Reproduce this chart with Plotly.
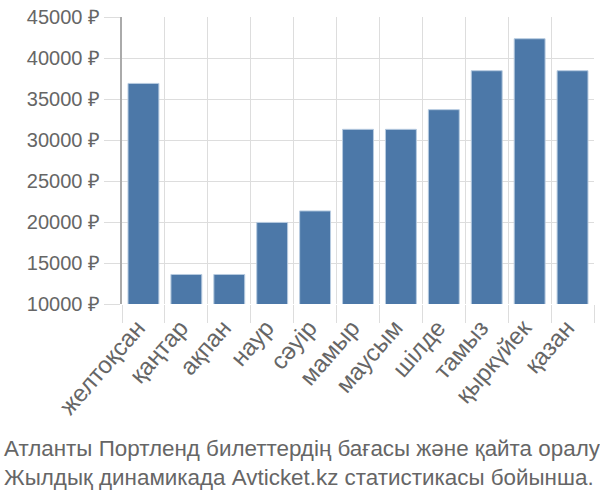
import plotly.graph_objects as go

months = ["желтоқсан", "қаңтар", "ақпан", "наур", "сәуір", "мамыр",
          "маусым", "шілде", "тамыз", "қыркүйек", "қазан"]
prices = [36900, 13600, 13600, 19950, 21350, 31300, 31300, 33700, 38450, 42350, 38450]
yticks = [10000, 15000, 20000, 25000, 30000, 35000, 40000, 45000]
yticklabels = [f"{v} ₽" for v in yticks]
title_lines = ["Атланты Портленд билеттердің бағасы және қайта оралу",
               "Жылдық динамикада Avticket.kz статистикасы бойынша."]

fig = go.Figure(go.Bar(
    x=months, y=prices, base=0,
    marker=dict(color="#4c78a8", line=dict(color="#b7cbe0", width=1)),
    width=0.72,
))

fig.update_layout(
    width=600, height=500,
    margin=dict(l=122, r=6, t=14, b=196),
    plot_bgcolor="white", paper_bgcolor="white",
    font=dict(family="Liberation Sans, Arial, sans-serif", color="#666666"),
    showlegend=False,
)
fig.update_xaxes(
    type="category", tickson="boundaries", tickangle=-49,
    showgrid=True, gridcolor="#dddddd", gridwidth=1,
    ticks="outside", ticklen=18, tickcolor="#dddddd",
    tickfont=dict(size=24, color="#666666"),
    ticklabelstandoff=4, ticklabelshift=-6,
    showline=False, zeroline=False,
)
fig.update_yaxes(
    range=[10000, 45000], tickvals=yticks, ticktext=yticklabels,
    showgrid=True, gridcolor="#dddddd", gridwidth=1,
    ticks="outside", ticklen=16, tickcolor="#dddddd",
    tickfont=dict(size=20, color="#666666"),
    showline=True, linecolor="#aaaaaa", linewidth=2,
    zeroline=False,
)
fig.add_annotation(
    text="<br>".join(title_lines), xref="paper", yref="paper",
    x=-120/472, y=-(494-304)/290, xanchor="left", yanchor="bottom",
    align="left", showarrow=False,
    font=dict(size=22.4, color="#666666"),
)
fig.write_html("out.html")
